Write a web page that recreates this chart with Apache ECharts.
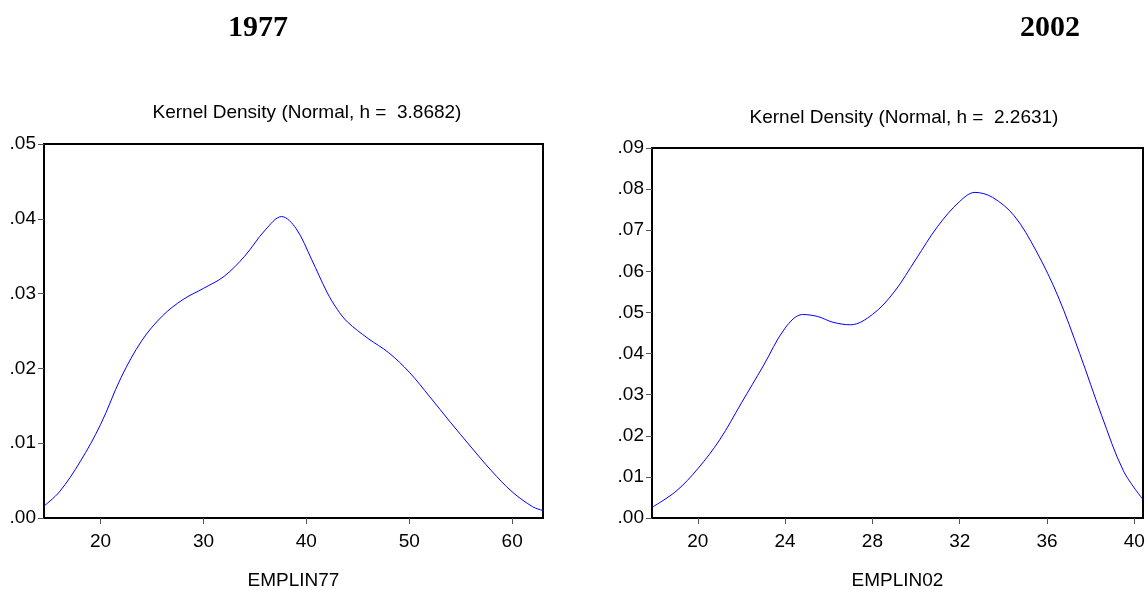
<!DOCTYPE html>
<html>
<head>
<meta charset="utf-8">
<script src="https://cdn.jsdelivr.net/npm/echarts@6/dist/echarts.min.js"></script>
<style>
html,body{margin:0;padding:0;background:#fff;}
#c{width:1147px;height:590px;}
</style>
</head>
<body>
<div id="c"></div>
<script>
// ---- DATA ----
const titles = ['1977', '2002'];
const subtitles = ['Kernel Density (Normal, h =  3.8682)', 'Kernel Density (Normal, h =  2.2631)'];
const axisNames = ['EMPLIN77', 'EMPLIN02'];

const x77 = [14.5, 16, 18, 20, 22, 24, 26, 28, 30, 32, 34, 36, 37.6, 39, 40.5, 42, 43, 44, 46, 48, 50, 52, 54, 56, 58, 60, 62, 63];
const d77 = [0.0016, 0.0035, 0.0075, 0.0125, 0.0188, 0.0237, 0.0270, 0.0292, 0.0307, 0.0323, 0.0350, 0.0385, 0.0403, 0.0387, 0.0346, 0.0302, 0.0279, 0.0262, 0.0240, 0.0221, 0.0195, 0.0162, 0.0128, 0.0095, 0.0063, 0.0035, 0.0015, 0.0010];

const x02 = [17.9, 19, 20, 21, 22, 23, 24, 24.8, 25.5, 26.2, 27, 28, 29, 30, 31, 32, 32.7, 33.5, 34.5, 35.5, 36.5, 37.5, 38.5, 39.5, 40.4];
const d02 = [0.0026, 0.0065, 0.012, 0.019, 0.028, 0.037, 0.0462, 0.0495, 0.0490, 0.0476, 0.047, 0.0495, 0.055, 0.063, 0.071, 0.077, 0.0792, 0.078, 0.0735, 0.065, 0.054, 0.040, 0.025, 0.0115, 0.0045];

const xTicks77 = [20, 30, 40, 50, 60];
const xTicks02 = [20, 24, 28, 32, 36, 40];
const yMax77 = 0.05, yMax02 = 0.09, yStep = 0.01;
const xRange77 = [14.5, 63];
const xRange02 = [17.9, 40.4];

// ---- CHART ----
const chart = echarts.init(document.getElementById('c'), null, {renderer: 'canvas'});
const sans = 'Liberation Sans, Arial, sans-serif';
const fmtY = v => { const s = v.toFixed(2); return s.replace(/^0/, ''); };

function xAxis(idx, range, ticks, name) {
  return {
    type: 'value', gridIndex: idx, min: range[0], max: range[1],
    name: name, nameLocation: 'middle', nameGap: 53,
    nameTextStyle: {fontFamily: sans, fontSize: 19, color: '#000'},
    axisLine: {show: false},
    axisTick: {show: true, customValues: ticks, length: 6, inside: false, lineStyle: {color: '#555', width: 1}},
    axisLabel: {customValues: ticks, fontFamily: sans, fontSize: 19, color: '#000', margin: 14},
    splitLine: {show: false}
  };
}
function yAxis(idx, max) {
  return {
    type: 'value', gridIndex: idx, min: 0, max: max, interval: yStep,
    axisLine: {show: false},
    axisTick: {show: true, length: 6, lineStyle: {color: '#555', width: 1}},
    axisLabel: {formatter: fmtY, fontFamily: sans, fontSize: 19, color: '#000', margin: 8},
    splitLine: {show: false}
  };
}

chart.setOption({
  animation: false,
  backgroundColor: '#fff',
  title: [
    {text: titles[0], left: 253, top: 8, textAlign: 'center',
     textStyle: {fontFamily: 'Liberation Serif, Times New Roman, serif', fontWeight: 'bold', fontSize: 30, color: '#000'}},
    {text: titles[1], left: 1045, top: 8, textAlign: 'center',
     textStyle: {fontFamily: 'Liberation Serif, Times New Roman, serif', fontWeight: 'bold', fontSize: 30, color: '#000'}},
    {text: subtitles[0], left: 302, top: 98, textAlign: 'center',
     textStyle: {fontFamily: sans, fontWeight: 'normal', fontSize: 19, color: '#000'}},
    {text: subtitles[1], left: 899, top: 103, textAlign: 'center',
     textStyle: {fontFamily: sans, fontWeight: 'normal', fontSize: 19, color: '#000'}}
  ],
  grid: [
    {left: 44, top: 144, width: 499, height: 374, show: true, borderColor: '#000', borderWidth: 2, backgroundColor: '#fff', outerBoundsMode: 'none', containLabel: false},
    {left: 652, top: 148, width: 491, height: 370, show: true, borderColor: '#000', borderWidth: 2, backgroundColor: '#fff', outerBoundsMode: 'none', containLabel: false}
  ],
  xAxis: [xAxis(0, xRange77, xTicks77, axisNames[0]), xAxis(1, xRange02, xTicks02, axisNames[1])],
  yAxis: [yAxis(0, yMax77), yAxis(1, yMax02)],
  series: [
    {type: 'line', xAxisIndex: 0, yAxisIndex: 0, data: x77.map((x, i) => [x, d77[i]]),
     smooth: 0.35, showSymbol: false, lineStyle: {color: '#0000ff', width: 1}, clip: true},
    {type: 'line', xAxisIndex: 1, yAxisIndex: 1, data: x02.map((x, i) => [x, d02[i]]),
     smooth: 0.35, showSymbol: false, lineStyle: {color: '#0000ff', width: 1}, clip: true}
  ]
});
</script>
</body>
</html>
